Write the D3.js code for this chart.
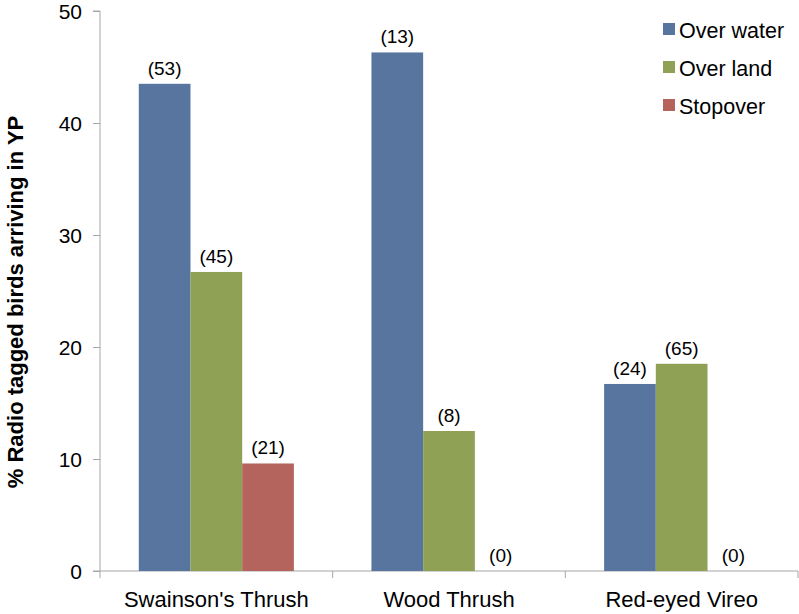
<!DOCTYPE html>
<html><head><meta charset="utf-8">
<script src="https://cdn.jsdelivr.net/npm/d3@7"></script>
<style>body{margin:0;background:#fff}svg{display:block;font-family:"Liberation Sans",Arial,sans-serif}</style>
</head><body><svg id="c" width="799" height="614"></svg>
<script>
const categories = ["Swainson's Thrush", "Wood Thrush", "Red-eyed Vireo"];
const seriesNames = ["Over water", "Over land", "Stopover"];
const overWater = [43.5, 46.3, 16.7];
const overLand = [26.7, 12.5, 18.5];
const stopover = [9.6, 0, 0];
const sampleWater = ["(53)", "(13)", "(24)"];
const sampleLand = ["(45)", "(8)", "(65)"];
const sampleStop = ["(21)", "(0)", "(0)"];
const yTicks = [0, 10, 20, 30, 40, 50];
const colors = ["#58759f", "#8ea155", "#b5645d"];

(function () {
const values = [overWater, overLand, stopover];
const labels = [sampleWater, sampleLand, sampleStop];
const svg = d3.select("#c");
const mLeft = 100, mRight = 798, mTop = 11, mBottom = 571;
const ff = "Liberation Sans, Arial, sans-serif";

const x = d3.scaleBand().domain(categories).range([mLeft, mRight]).paddingInner(0).paddingOuter(0);
const bw = x.bandwidth() / 4.5;
const y = d3.scaleLinear().domain([0, 50]).range([mBottom, mTop]);

// y axis
const ya = svg.append("g").attr("transform", `translate(${mLeft},0)`)
  .call(d3.axisLeft(y).tickValues(yTicks).tickSize(7).tickPadding(11));
ya.select(".domain").attr("stroke", "#a6a6a6").attr("d", `M-7,${mTop}H0V${mBottom}H-7`);
ya.selectAll(".tick line").attr("stroke", "#a6a6a6");
ya.selectAll(".tick text").attr("font-size", 21).attr("fill", "#000").attr("font-family", ff).attr("dy", "0.36em");

// x axis
const xa = svg.append("g").attr("transform", `translate(0,${mBottom})`)
  .call(d3.axisBottom(x).tickSize(0).tickPadding(0));
xa.select(".domain").attr("stroke", "#a6a6a6").attr("d", `M${mLeft},0H${mRight}`);
xa.selectAll(".tick text").attr("font-size", 22).attr("fill", "#000").attr("font-family", ff).attr("y", 36).attr("dy", 0);
const bounds = [mLeft].concat(categories.map(c => x(c) + x.bandwidth()));
svg.append("g").selectAll("line").data(bounds).join("line")
  .attr("x1", d => d).attr("x2", d => d).attr("y1", mBottom).attr("y2", mBottom + 7)
  .attr("stroke", "#a6a6a6");

// bars
values.forEach((vals, s) => {
  const g = svg.append("g");
  categories.forEach((c, i) => {
    const x0 = x(c) + 0.75 * bw + s * bw;
    const v = vals[i];
    if (v > 0) {
      g.append("rect").attr("x", x0).attr("width", bw).attr("y", y(v)).attr("height", y(0) - y(v)).attr("fill", colors[s]);
    }
    g.append("text").attr("x", x0 + bw / 2).attr("y", y(v) - 9)
      .attr("text-anchor", "middle").attr("font-size", 19).attr("fill", "#000").text(labels[s][i]);
  });
});

// y title
svg.append("text").attr("transform", `translate(23,${302}) rotate(-90)`)
  .attr("text-anchor", "middle").attr("font-size", 22).attr("font-weight", "bold").attr("fill", "#000")
  .text("% Radio tagged birds arriving in YP");

// legend
const lg = svg.append("g");
seriesNames.forEach((n, i) => {
  const yy = 38 + i * 38;
  lg.append("rect").attr("x", 663).attr("y", yy - 15).attr("width", 12).attr("height", 12).attr("fill", colors[i]);
  lg.append("text").attr("x", 679).attr("y", yy).attr("font-size", 21.5).attr("fill", "#000").text(n);
});
})();
</script></body></html>
